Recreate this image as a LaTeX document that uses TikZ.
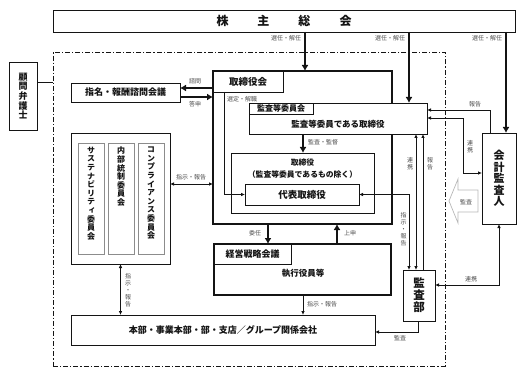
\documentclass[tikz,border=0pt]{standalone}
\usepackage{fontspec}
\setmainfont{Noto Sans CJK JP}
\newfontfamily\tatefont[RawFeature=+vert]{Noto Sans CJK JP}
\usetikzlibrary{arrows.meta,calc}
\definecolor{GovInk}{gray}{0.08}
\definecolor{GovNote}{gray}{0.3}
\definecolor{GovGuide}{gray}{0.55}
\definecolor{GovHollow}{gray}{0.72}
\tikzset{
    gov/diagram/.style={
        x=1pt, y=-1pt,
        draw=GovInk,
        text=GovInk,
        line width=0.8pt,
        every node/.style={inner sep=0pt, outer sep=0pt}
    },
    gov/box/.style={
        draw=GovInk, fill=white, line width=0.9pt, align=center,
        font=\fontsize{9}{10}\selectfont\bfseries
    },
    gov/frame/.style={gov/box, line width=2.2pt},
    gov/tag/.style={gov/box, anchor=north west},
    gov/member/.style={
        draw=GovGuide, line width=0.8pt,
        minimum width=26, minimum height=111
    },
    gov/upright/.style={
        align=center, anchor=north,
        font=\fontsize{8}{8.6}\selectfont\tatefont\bfseries
    },
    gov/text/.style={font=\fontsize{8.5}{12}\selectfont\bfseries, align=center},
    gov/note/.style={
        text=GovNote, align=center,
        font=\fontsize{6}{7}\selectfont
    },
    gov/vnote/.style={gov/note, font=\fontsize{6}{7}\selectfont\tatefont},
    gov/line/.style={draw=GovInk, line width=0.8pt},
    gov/link/.style={
        draw=GovInk, line width=0.8pt,
        -{Latex[length=4pt, width=3.6pt]}
    },
    gov/both/.style={
        gov/link,
        {Latex[length=4pt, width=3.6pt]}-{Latex[length=4pt, width=3.6pt]}
    },
    gov/flow/.style={
        draw=GovInk, line width=2.4pt,
        -{Latex[length=6pt, width=7pt]}
    },
    gov/boundary/.style={
        draw=GovInk, line width=0.8pt,
        dash pattern=on 5pt off 2pt on 1.2pt off 2pt
    },
    gov/hollow/.style={draw=GovHollow, fill=white, line width=0.7pt}
}

\begin{document}
\begin{tikzpicture}[gov/diagram]
    \useasboundingbox (0,0) rectangle (525,377);

    % Shareholders' meeting and the group boundary.
    \node[gov/box, minimum width=462, minimum height=22,
          font=\fontsize{12}{12}\selectfont\bfseries]
        (meeting) at (284,21) {株\hspace{29pt}主\hspace{29pt}総\hspace{29pt}会};
    \node[gov/boundary, minimum width=392, minimum height=314]
        (company) at (249,209) {};

    % Outside counsel.
    \node[gov/box, minimum width=28, minimum height=68,
          font=\fontsize{9}{9.6}\selectfont\tatefont\bfseries]
        (counsel) at (23,96) {顧\\問\\弁\\護\\士};
    \draw[gov/line] (counsel.east |- 0,82) -- (company.west |- 0,82);

    % Advisory council.
    \node[gov/box, minimum width=109, minimum height=19]
        (nomination) at (125.5,92.5) {指名・報酬諮問会議};

    % Board of directors with its nested bodies.
    \node[gov/frame, minimum width=179, minimum height=153]
        (board) at (302.5,147.5) {};
    \node[gov/tag, minimum width=70, minimum height=21,
          font=\fontsize{9.5}{10}\selectfont\bfseries]
        (boardtag) at (board.north west) {取締役会};
    \node[gov/box, minimum width=178, minimum height=31]
        (committee) at (338,118.5) {};
    \node[gov/tag, minimum width=64, minimum height=11.5,
          font=\fontsize{8}{8}\selectfont\bfseries]
        (committeetag) at (committee.north west) {監査等委員会};
    \node[gov/text] (committeetext) at (338,124) {監査等委員である取締役};
    \node[gov/box, minimum width=143, minimum height=60]
        (directors) at (302.5,183) {};
    \node[gov/text, font=\fontsize{7.8}{12}\selectfont\bfseries]
        (directorstext) at (302.5,169) {取締役\\（監査等委員であるもの除く）};
    \node[gov/box, minimum width=114, minimum height=21,
          font=\fontsize{9.5}{10}\selectfont\bfseries]
        (representative) at (302,194.5) {代表取締役};

    % Committees.
    \node[gov/box, minimum width=99, minimum height=131]
        (committees) at (120.5,198.5) {};
    \node[gov/member] (sustain) at (91,198.5) {};
    \node[gov/member] (control) at (121,198.5) {};
    \node[gov/member] (comply) at (151,198.5) {};
    \node[gov/upright] (sustaintext) at ([yshift=-4pt]sustain.north)
        {サ\\ス\\テ\\ナ\\ビ\\リ\\テ\\ィ\\委\\員\\会};
    \node[gov/upright] (controltext) at ([yshift=-4pt]control.north)
        {内\\部\\統\\制\\委\\員\\会};
    \node[gov/upright] (complytext) at ([yshift=-4pt]comply.north)
        {コ\\ン\\プ\\ラ\\イ\\ア\\ン\\ス\\委\\員\\会};

    % Executive side.
    \node[gov/frame, minimum width=177, minimum height=51]
        (strategy) at (302.5,269.5) {};
    \node[gov/tag, minimum width=77, minimum height=20]
        (strategytag) at (strategy.north west) {経営戦略会議};
    \node[gov/text] (strategytext) at (303,273) {執行役員等};
    \node[gov/box, minimum width=304, minimum height=30]
        (office) at (223,330) {本部・事業本部・部・支店／グループ関係会社};

    % Audit bodies.
    \node[gov/box, minimum width=32, minimum height=51,
          font=\fontsize{11.5}{12}\selectfont\tatefont\bfseries]
        (auditdept) at (419,295.5) {監\\査\\部};
    \node[gov/box, minimum width=34, minimum height=91,
          font=\fontsize{11}{11.5}\selectfont\tatefont\bfseries]
        (auditor) at (499,178.5) {会\\計\\監\\査\\人};
    \draw[gov/hollow] (449,201) -- (458,179) -- (458,190) -- (478,190)
        -- (478,212) -- (458,212) -- (458,223) -- cycle;
    \node[gov/note] (monitor) at (466,202) {監査};

    % Appointments by the shareholders.
    \draw[gov/flow] (meeting.south -| 305,0) -- (board.north -| 305,0);
    \draw[gov/flow] (meeting.south -| 409,0) -- (committee.north -| 409,0);
    \draw[gov/flow] (meeting.south -| 506,0) -- (auditor.north -| 506,0);
    \node[gov/note, anchor=east] (electboard) at (301,38) {選任・解任};
    \node[gov/note, anchor=east] (electcommittee) at (405,38) {選任・解任};
    \node[gov/note, anchor=east] (electauditor) at (502,38) {選任・解任};

    % Board and advisory council.
    \draw[gov/flow] (board.west |- 0,88) -- (nomination.east |- 0,88);
    \draw[gov/flow] (nomination.east |- 0,97) -- (board.west |- 0,97);
    \node[gov/note] (consult) at (195,81) {諮問};
    \node[gov/note] (answer) at (195,104) {答申};

    % Inside the board.
    \draw[gov/link] ([xshift=11pt]boardtag.south west) |- (representative.west);
    \node[gov/note, anchor=west] (appoint) at (227,99) {選定・解職};
    \draw[gov/flow] (committee.south -| 303,0) -- (directors.north -| 303,0);
    \node[gov/note, anchor=west] (oversee) at (308,142) {監査・監督};

    % Committees, board and business units.
    \draw[gov/both] (committees.east |- 0,184) -- (board.west |- 0,184);
    \node[gov/note] (cmtreport) at (191,177) {指示・報告};
    \draw[gov/both] (committees.south) -- (office.north -| committees.south);
    \node[gov/vnote] (unitreport) at (128,290) {指\\示\\・\\報\\告};

    % Board and executive meeting.
    \draw[gov/flow] (board.south -| 268,0) -- (strategy.north -| 268,0);
    \node[gov/note] (delegate) at (255,233) {委任};
    \draw[gov/flow] (strategy.north -| 337,0) -- (board.south -| 337,0);
    \node[gov/note] (propose) at (350,233) {上申};
    \draw[gov/link] (strategy.south -| 303,0) -- (office.north -| 303,0);
    \node[gov/note, anchor=west] (execreport) at (307,304) {指示・報告};

    % Internal audit links.
    \draw[gov/both] (representative.east) -| (auditdept.north -| 409,0);
    \node[gov/vnote, anchor=east] (deptorder) at (406.5,229) {指\\示\\・\\報\\告};
    \draw[gov/both] (committee.south -| 416,0) -- (auditdept.north -| 416,0);
    \node[gov/vnote] (deptlink) at (410,164) {連\\携};
    \draw[gov/link] (auditdept.north -| 423,0) -- (committee.south -| 423,0);
    \node[gov/vnote] (deptreport) at (430,164) {報\\告};
    \draw[gov/link] (auditdept.south -| 418,0) |- (office.east |- 0,332);
    \node[gov/note] (deptaudit) at (400,338) {監査};

    % Accounting auditor links.
    \draw[gov/link] (auditor.north -| 490,0) |- (committee.east |- 0,110);
    \node[gov/note] (auditreport) at (475,104) {報告};
    \draw[gov/both] (committee.east |- 0,118) -- ++(36,0)
        |- (auditor.west |- 0,173);
    \node[gov/vnote] (auditlink) at (470,147) {連\\携};
    \draw[gov/both] (auditdept.east |- 0,285) -| (auditor.south);
    \node[gov/note] (deptauditlink) at (471,279) {連携};
\end{tikzpicture}
\end{document}
